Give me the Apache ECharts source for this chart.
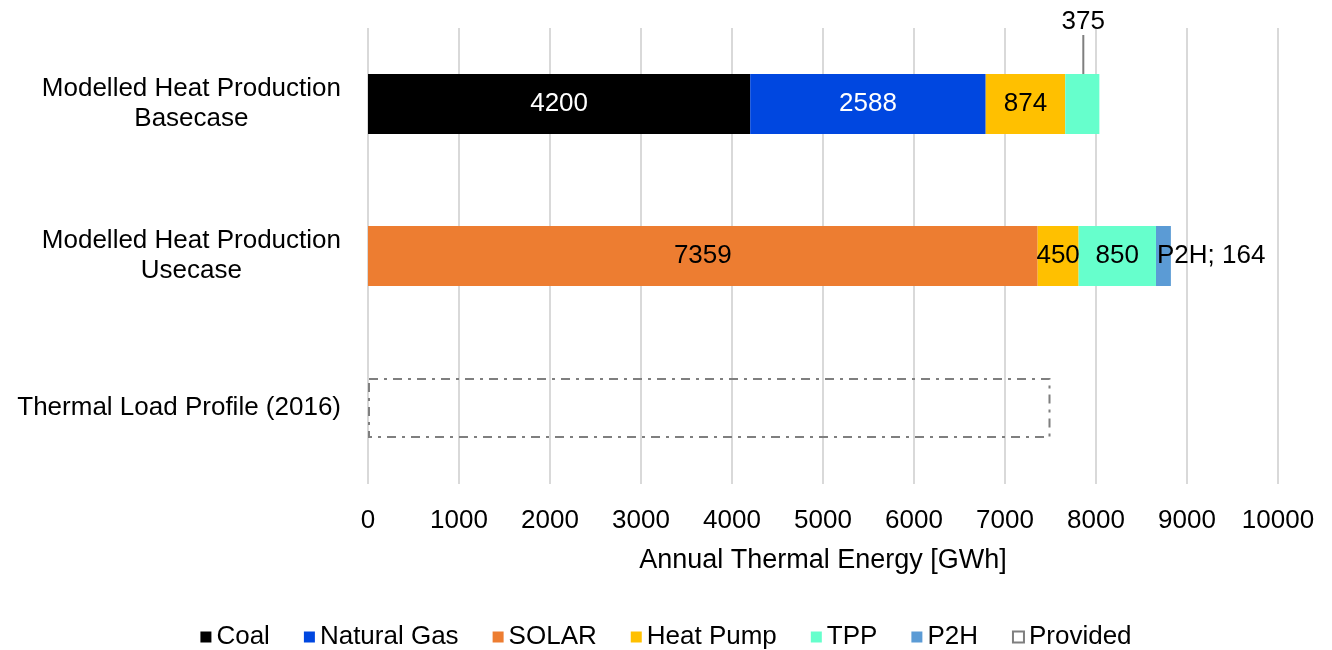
<!DOCTYPE html>
<html>
<head>
    <meta charset="utf-8">
    <title>Annual Thermal Energy</title>
    <script src="https://cdn.jsdelivr.net/npm/echarts@6/dist/echarts.min.js"></script>
    <style>
        html, body { margin: 0; padding: 0; background: #fff; }
        #chart { width: 1332px; height: 650px; }
    </style>
</head>
<body>
<div id="chart"></div>
<script>
    // categories, top to bottom
    const categories = ['Modelled Heat Production\nBasecase', 'Modelled Heat Production\nUsecase', 'Thermal Load Profile (2016)'];
    const xTicks = [0, 1000, 2000, 3000, 4000, 5000, 6000, 7000, 8000, 9000, 10000];

    // GWh per source
    const coal = [4200, '-', '-'];
    const naturalGas = [2588, '-', '-'];
    const solar = ['-', 7359, '-'];
    const heatPump = [874, 450, '-'];
    const tpp = [375, 850, '-'];
    const p2h = ['-', 164, '-'];
    const provided = ['-', '-', 7500];

    const chart = echarts.init(document.getElementById('chart'));
    const font = 'Liberation Sans, Arial, sans-serif';
    const fs = 26;

    function seg(name, data, color, labelColor) {
        return {
            name: name,
            type: 'bar',
            stack: 'total',
            barWidth: 60,
            data: data,
            itemStyle: { color: color },
            label: {
                show: true,
                position: 'inside',
                color: labelColor,
                fontFamily: font,
                fontSize: fs
            }
        };
    }

    const tppSeries = seg('TPP', tpp, '#66FFCC', '#000');
    tppSeries.labelLayout = function (p) {
        // basecase value sits above the bar with a leader line
        return p.dataIndex === 0 ? { dy: -82, dx: 1 } : {};
    };
    tppSeries.labelLine = { show: true, lineStyle: { color: '#7f7f7f', width: 2 } };

    const p2hSeries = seg('P2H', p2h, '#5B9BD5', '#000');
    p2hSeries.label.position = 'insideLeft';
    p2hSeries.label.distance = 1;
    p2hSeries.label.formatter = '{a}; {c}';

    chart.setOption({
        animation: false,
        textStyle: { fontFamily: font },
        grid: { left: 368, right: 54, top: 28, bottom: 166 },
        legend: {
            top: 619,
            icon: 'rect',
            itemWidth: 11,
            itemHeight: 11,
            itemGap: 34,
            textStyle: { fontSize: fs, color: '#000', fontFamily: font },
            data: ['Coal', 'Natural Gas', 'SOLAR', 'Heat Pump', 'TPP', 'P2H', 'Provided']
        },
        xAxis: {
            type: 'value',
            min: xTicks[0],
            max: xTicks[xTicks.length - 1],
            interval: 1000,
            name: 'Annual Thermal Energy [GWh]',
            nameLocation: 'middle',
            nameGap: 63,
            nameTextStyle: { fontSize: 27, color: '#000', fontFamily: font },
            axisLine: { show: false },
            axisTick: { show: false },
            axisLabel: {
                fontSize: fs, color: '#000', margin: 24, fontFamily: font,
                formatter: function (v) { return String(v); }
            },
            splitLine: { lineStyle: { color: '#d9d9d9', width: 2 } }
        },
        yAxis: {
            type: 'category',
            inverse: true,
            data: categories,
            axisLine: { show: false },
            axisTick: { show: false },
            axisLabel: {
                margin: 27,
                formatter: function (v) {
                    return v.split('\n').map(function (s) { return '{c|' + s + '}'; }).join('\n');
                },
                rich: {
                    c: { fontSize: fs, color: '#000', align: 'center', lineHeight: 30, fontFamily: font }
                }
            }
        },
        series: [
            seg('Coal', coal, '#000000', '#fff'),
            seg('Natural Gas', naturalGas, '#0047E0', '#fff'),
            seg('SOLAR', solar, '#ED7D31', '#000'),
            seg('Heat Pump', heatPump, '#FFC000', '#000'),
            tppSeries,
            p2hSeries,
            {
                name: 'Provided',
                type: 'bar',
                stack: 'total',
                barWidth: 60,
                data: provided,
                itemStyle: {
                    color: 'rgba(0,0,0,0)',
                    borderColor: '#7f7f7f',
                    borderWidth: 2,
                    borderType: [9, 6, 3, 6]
                }
            }
        ]
    });
</script>
</body>
</html>
